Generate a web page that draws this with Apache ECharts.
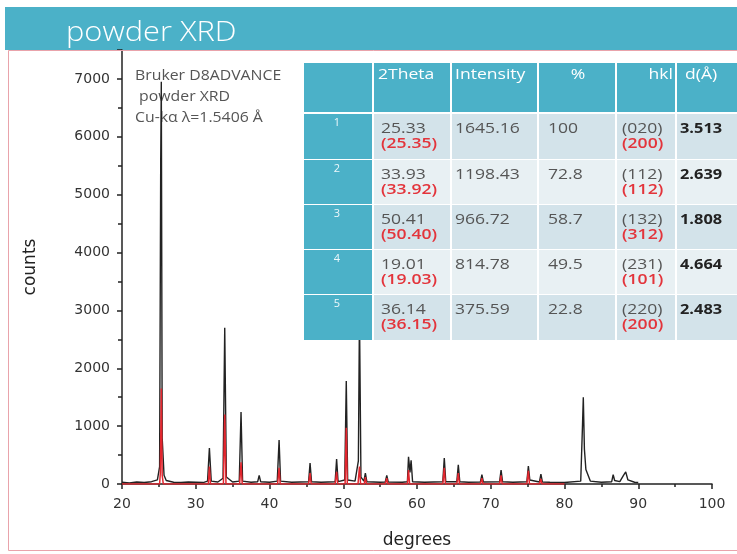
<!DOCTYPE html>
<html><head><meta charset="utf-8">
<script src="https://cdn.jsdelivr.net/npm/echarts/dist/echarts.min.js"></script>
<style>html,body{margin:0;padding:0;background:#fff}#c{width:737px;height:554px}</style>
</head><body><div id="c"></div>
<script>
// ---- data ----
const observed = [[20,30],[21,20],[22,35],[23,25],[24,40],[24.8,70],[25.1,300],[25.25,5600],[25.33,6950],[25.45,800],[25.7,150],[26,60],[27,30],[28,25],[29,35],[30,30],[31,25],[31.6,50],[31.85,620],[32.1,50],[33,35],[33.7,100],[33.93,2700],[34.15,120],[35,35],[35.9,50],[36.14,1245],[36.35,50],[37.5,30],[38.4,40],[38.6,150],[38.8,40],[40,30],[41.05,50],[41.3,760],[41.5,50],[43,30],[45.3,40],[45.5,360],[45.7,40],[47,30],[48.9,40],[49.1,430],[49.3,40],[50.2,70],[50.41,1780],[50.6,70],[51.6,50],[52.05,400],[52.2,2950],[52.4,120],[52.8,50],[53.0,190],[53.2,40],[55,30],[55.7,35],[55.9,150],[56.1,35],[58,30],[58.7,40],[58.85,470],[59.05,200],[59.2,410],[59.4,40],[61,30],[63.5,40],[63.7,450],[63.9,40],[65.4,40],[65.6,330],[65.8,40],[67,30],[68.6,35],[68.8,160],[69,35],[71.2,40],[71.4,240],[71.6,40],[73,30],[74.9,40],[75.1,310],[75.3,70],[76.6,35],[76.8,170],[77,35],[78,30],[80,25],[82.2,50],[82.45,1050],[82.55,1500],[82.7,600],[82.9,250],[83.2,150],[83.5,50],[85,30],[86.4,40],[86.6,160],[86.8,60],[87.5,40],[88.0,150],[88.3,210],[88.6,70],[89.5,30],[90,25]];
const reference = [[20,0],[25.1,0],[25.2,200],[25.33,1650],[25.45,150],[25.6,0],[31.7,0],[31.85,300],[32.0,0],[33.75,0],[33.93,1200],[34.1,0],[35.95,0],[36.14,375],[36.3,0],[41.1,0],[41.3,280],[41.45,0],[45.3,0],[45.5,190],[45.65,0],[48.9,0],[49.1,210],[49.25,0],[50.25,0],[50.41,970],[50.55,0],[52.0,0],[52.2,300],[52.35,0],[52.85,0],[53.0,120],[53.15,0],[55.7,0],[55.9,100],[56.05,0],[58.7,0],[58.85,240],[59.0,0],[63.5,0],[63.7,280],[63.85,0],[65.4,0],[65.6,190],[65.75,0],[68.6,0],[68.8,100],[68.95,0],[71.2,0],[71.4,150],[71.55,0],[74.9,0],[75.1,230],[75.25,0],[76.6,0],[76.8,90],[76.95,0],[80,0]];
const titleText = 'powder XRD';
const instrumentLines = ['Bruker D8ADVANCE', ' powder XRD', 'Cu-k\u03b1 \u03bb=1.5406 \u00c5'];
const tableHeaders = ['', '2Theta', 'Intensity', '%', 'hkl', 'd(\u00c5)'];
const rowNo = ['1','2','3','4','5'];
const twoTheta = ['25.33','33.93','50.41','19.01','36.14'];
const twoThetaRef = ['(25.35)','(33.92)','(50.40)','(19.03)','(36.15)'];
const intensity = ['1645.16','1198.43','966.72','814.78','375.59'];
const percent = ['100','72.8','58.7','49.5','22.8'];
const hkl = ['(020)','(112)','(132)','(231)','(220)'];
const hklRef = ['(200)','(112)','(312)','(101)','(200)'];
const dSpacing = ['3.513','2.639','1.808','4.664','2.483'];

// ---- layout ----
const TEAL = '#4BB1C8';
const colX = [303, 373, 451, 538, 616, 676, 740];
const rowY = [63, 113, 159, 204, 249, 294, 340];
const rowFill = ['#D3E3EA', '#E8F0F3'];
const FONT = '"Open Sans", "Noto Sans", sans-serif';
const SX = 1.17;
const ZT = 100;
function txt(t, x, y, fill, font, align, sx) {
  return {type:'text', z:ZT, x:x, y:y, scaleX: sx || SX,
    style:{text:t, x:0, y:0, align:align||'left', verticalAlign:'middle', fill:fill, font:font}};
}
const children = [];
for (let c = 0; c < 6; c++) {
  children.push({type:'rect', z:ZT, shape:{x:colX[c]+1, y:rowY[0], width:colX[c+1]-colX[c]-2, height:rowY[1]-rowY[0]-1}, style:{fill:TEAL}});
}
const headerPos = [null, {x:378,a:'left'}, {x:455,a:'left'}, {x:578,a:'center'}, {x:673,a:'right'}, {x:685,a:'left'}];
for (let c = 1; c < 6; c++) {
  children.push(txt(tableHeaders[c], headerPos[c].x, rowY[0]+12, '#fff', '15px '+FONT, headerPos[c].a));
}
for (let r = 0; r < 5; r++) {
  const top = rowY[r+1] + 1, h = rowY[r+2] - rowY[r+1] - 1;
  for (let c = 0; c < 6; c++) {
    children.push({type:'rect', z:ZT, shape:{x:colX[c]+1, y:top, width:colX[c+1]-colX[c]-2, height:h}, style:{fill: c===0 ? TEAL : rowFill[r%2]}});
  }
  const l1 = top + 15, l2 = top + 30;
  children.push(txt(rowNo[r], 337, top+9, '#eef8fb', '11px '+FONT, 'center', 1));
  children.push(txt(twoTheta[r], 381, l1, '#555', '15px '+FONT));
  children.push(txt(twoThetaRef[r], 381, l2, '#E3343B', '600 15px '+FONT));
  children.push(txt(intensity[r], 455, l1, '#555', '15px '+FONT));
  children.push(txt(percent[r], 548, l1, '#555', '15px '+FONT));
  children.push(txt(hkl[r], 622, l1, '#555', '15px '+FONT));
  children.push(txt(hklRef[r], 622, l2, '#E3343B', '600 15px '+FONT));
  children.push(txt(dSpacing[r], 680, l1, '#222', 'bold 14px '+FONT));
}

const chart = echarts.init(document.getElementById('c'));
chart.setOption({
  animation: false,
  backgroundColor: '#fff',
  grid: {left: 122, right: 25, top: 50, bottom: 69},
  xAxis: {
    type: 'value', min: 20, max: 100, interval: 10,
    name: 'degrees', nameLocation: 'middle', nameGap: 48,
    nameTextStyle: {fontFamily: 'DejaVu Sans', fontSize: 17, color: '#222'},
    axisLine: {lineStyle: {color: '#222', width: 1.5}},
    axisTick: {length: 5, lineStyle: {color: '#222', width: 1.5}},
    minorTick: {show: true, splitNumber: 2, length: 3, lineStyle: {color: '#222', width: 1.5}},
    splitLine: {show: false},
    axisLabel: {fontFamily: 'DejaVu Sans', fontSize: 14, color: '#333', margin: 13}
  },
  yAxis: {
    type: 'value', min: 0, max: 7500, interval: 1000,
    name: 'counts', nameLocation: 'middle', nameGap: 83,
    nameTextStyle: {fontFamily: 'DejaVu Sans', fontSize: 17, color: '#222'},
    axisLine: {show: true, lineStyle: {color: '#222', width: 1.5}},
    axisTick: {show: true, length: 5, lineStyle: {color: '#222', width: 1.5}},
    minorTick: {show: true, splitNumber: 2, length: 4, lineStyle: {color: '#222', width: 1.5}},
    splitLine: {show: false},
    axisLabel: {fontFamily: 'DejaVu Sans', fontSize: 14, color: '#333', margin: 12,
      formatter: v => (v % 1000 === 0 ? String(v) : '')}
  },
  series: [
    {type: 'line', data: observed, showSymbol: false, lineStyle: {color: '#222', width: 1.4}, z: 3},
    {type: 'line', data: reference, showSymbol: false, lineStyle: {color: '#E2262E', width: 1.5}, z: 4}
  ],
  graphic: [
    {type: 'rect', z: 0, shape: {x: 5, y: 7, width: 740, height: 43}, style: {fill: TEAL}},
    {type: 'text', z: 1, x: 66, y: 33, scaleX: 1.1, style: {text: titleText, x: 0, y: 0, verticalAlign: 'middle', fill: '#fff', font: '300 28px ' + FONT}},
    {type: 'rect', z: 1, shape: {x: 8.5, y: 50.5, width: 740, height: 500}, style: {fill: 'none', stroke: '#E9A3AB', lineWidth: 1}},
    {type: 'text', z: 1, x: 135, y: 66, scaleX: 1.13, style: {text: instrumentLines.join('\n'), x: 0, y: 0, lineHeight: 21, fill: '#555', font: '14px ' + FONT}},
    {type: 'group', z: ZT, children: children}
  ]
});
</script></body></html>
